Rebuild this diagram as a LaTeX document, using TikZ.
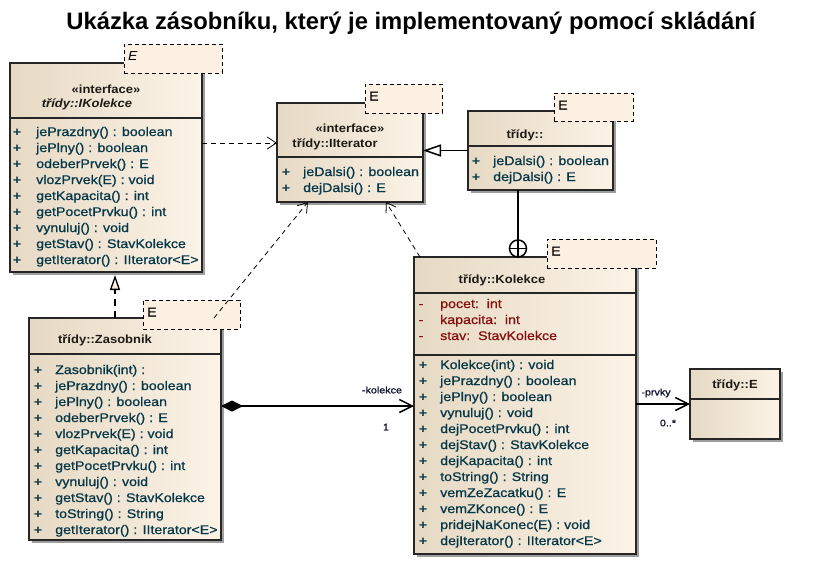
\documentclass[tikz,border=0pt]{standalone}
\usepackage{fontspec}
\setmainfont{Liberation Sans}
\newfontfamily\mfont[FakeBold=0.9]{Liberation Sans}
\usetikzlibrary{arrows.meta,shadows,calc}
\definecolor{mcol}{HTML}{073848}
\definecolor{acol}{HTML}{861010}
\definecolor{hcol}{HTML}{1E1A16}
\definecolor{boxl}{HTML}{E6D9C4}
\definecolor{boxr}{HTML}{FCF3E7}
\definecolor{tpl}{HTML}{FBF0E2}
\definecolor{lcol}{HTML}{101030}
\newcommand\umlops[5]{%
  \foreach \t [count=\i] in {#5} {
    \node[ptext] (#1p\i) at ({#2},{#4+16*(\i-1)}) {+};
    \node[mtext] (#1m\i) at ({#3},{#4+16*(\i-1)}) {\t};
  }}
\begin{document}
\begin{tikzpicture}[x=1pt,y=-1pt,
  classbox/.style={draw=black!85, line width=1.6pt, left color=boxl, right color=boxr,
    inner sep=0pt, outer sep=0pt,
    drop shadow={shadow xshift=3pt,shadow yshift=-3pt,fill=black!38,opacity=1}},
  tplbox/.style={draw=black, line width=0.8pt, dash pattern=on 4pt off 3pt, fill=tpl,
    inner sep=0pt, outer sep=0pt},
  tpltext/.style={anchor=west, inner sep=0pt, text=black, font=\mfont\fontsize{13}{15}\selectfont,
    text height=9pt, text depth=0pt, xscale=1.08},
  divider/.style={draw=black!85, line width=1.6pt},
  mtext/.style={text=mcol, font=\mfont\fontsize{12.5}{15}\selectfont, inner sep=0pt, anchor=west,
    text height=9pt, text depth=3pt, xscale=1.136},
  ptext/.style={text=mcol, font=\mfont\fontsize{12.5}{15}\selectfont, inner sep=0pt,
    text height=9pt, text depth=3pt, xscale=1.136},
  atext/.style={mtext, text=acol},
  hdr/.style={text=hcol, font=\bfseries\fontsize{11.8}{14}\selectfont, inner sep=0pt,
    text height=8.5pt, text depth=2.5pt, xscale=1.1},
  lbl/.style={text=lcol, font=\mfont\fontsize{9.5}{11}\selectfont, inner sep=0pt, xscale=1.13},
  dep/.style={draw=black, line width=0.8pt, dash pattern=on 5pt off 4pt,
    -{Straight Barb[length=9pt,width=12pt,line width=0.8pt]}},
  solidline/.style={draw=black, line width=1.5pt}
]
\useasboundingbox[fill=white] (0,0) rectangle (823,581);

% title
\node[inner sep=0pt] (title) at (411,23)
  {\bfseries\fontsize{23.8}{28}\selectfont Ukázka zásobníku, který je implementovaný pomocí skládání};

% ---------- IKolekce ----------
\node[classbox, minimum width=192pt, minimum height=209pt] (ik) at (106,167.5) {};
\draw[divider] (10,118) -- (202,118);
\node[hdr] (ikst) at (106,90) {«interface»};
\node[hdr, font=\bfseries\itshape\fontsize{11.8}{14}\selectfont] (ikname) at (87,104) {třídy::IKolekce};
\umlops{ik}{17}{36}{133}{{jePrazdny() : boolean},{jePlny() : boolean},{odeberPrvek() : E},{vlozPrvek(E) : void},{getKapacita() : int},{getPocetPrvku() : int},{vynuluj() : void},{getStav() : StavKolekce},{getIterator() : IIterator<E>}}
\node[tplbox, minimum width=98pt, minimum height=29pt] (ikE) at (173,58.5) {};
\node[tpltext, font=\itshape\fontsize{13}{15}\selectfont] (ikEt) at ([xshift=4pt,yshift=-12pt]ikE.north west) {E};

% ---------- IIterator ----------
\node[classbox, minimum width=146pt, minimum height=99pt] (it) at (350,152.5) {};
\draw[divider] (277,157) -- (423,157);
\node[hdr] (itst) at (350,129) {«interface»};
\node[hdr] (itname) at (335,144) {třídy::IIterator};
\umlops{it}{286}{303}{173}{{jeDalsi() : boolean},{dejDalsi() : E}}
\node[tplbox, minimum width=77pt, minimum height=29pt] (itE) at (403.5,98.5) {};
\node[tpltext] (itEt) at ([xshift=4pt,yshift=-12pt]itE.north west) {E};

% ---------- tridy:: ----------
\node[classbox, minimum width=145pt, minimum height=79pt] (td) at (540.5,150.5) {};
\draw[divider] (468,146) -- (613,146);
\node[hdr] (tdname) at (525,135) {třídy::};
\umlops{td}{476}{493}{162}{{jeDalsi() : boolean},{dejDalsi() : E}}
\node[tplbox, minimum width=79pt, minimum height=28pt] (tdE) at (593.5,107) {};
\node[tpltext] (tdEt) at ([xshift=4pt,yshift=-12pt]tdE.north west) {E};

% ---------- Kolekce ----------
\node[classbox, minimum width=222pt, minimum height=297pt] (ko) at (525,405.5) {};
\draw[divider] (414,293) -- (636,293);
\draw[divider] (414,355) -- (636,355);
\node[hdr] (koname) at (502,280) {třídy::Kolekce};
\foreach \t [count=\i] in {{pocet:\ \ int},{kapacita:\ \ int},{stav:\ \ StavKolekce}} {
  \node[ptext, text=acol] (koap\i) at ({421},{305+16*(\i-1)}) {-};
  \node[atext] (koa\i) at ({440},{305+16*(\i-1)}) {\t};
}
\umlops{ko}{423}{440}{366}{{Kolekce(int) : void},{jePrazdny() : boolean},{jePlny() : boolean},{vynuluj() : void},{dejPocetPrvku() : int},{dejStav() : StavKolekce},{dejKapacita() : int},{toString() : String},{vemZeZacatku() : E},{vemZKonce() : E},{pridejNaKonec(E) : void},{dejIterator() : IIterator<E>}}
\node[tplbox, minimum width=109pt, minimum height=29pt] (koE) at (601.5,253.5) {};
\node[tpltext] (koEt) at ([xshift=4pt,yshift=-12pt]koE.north west) {E};

% ---------- tridy::E ----------
\node[classbox, minimum width=90pt, minimum height=70pt] (e) at (735,404) {};
\draw[divider] (690,399) -- (780,399);
\node[hdr] (ename) at (735,385) {třídy::E};

% ---------- Zasobnik ----------
\node[classbox, minimum width=192pt, minimum height=222pt] (za) at (125,429) {};
\draw[divider] (29,354) -- (221,354);
\node[hdr] (zaname) at (105,340) {třídy::Zasobnik};
\umlops{za}{38}{55}{371}{{Zasobnik(int) :},{jePrazdny() : boolean},{jePlny() : boolean},{odeberPrvek() : E},{vlozPrvek(E) : void},{getKapacita() : int},{getPocetPrvku() : int},{vynuluj() : void},{getStav() : StavKolekce},{toString() : String},{getIterator() : IIterator<E>}}
\node[tplbox, minimum width=97pt, minimum height=29pt] (zaE) at (191.5,314.5) {};
\node[tpltext] (zaEt) at ([xshift=4pt,yshift=-12pt]zaE.north west) {E};

% ---------- connectors ----------
\draw[dep] ([yshift=24.5pt]ik.east) -- ([yshift=9.5pt]it.west);
\draw[draw=black, line width=1.3pt, dash pattern=on 7pt off 5pt,
  -{Triangle[open,length=15pt,width=10pt,fill=tpl,line width=1.3pt]}]
  ([xshift=-10pt]za.north) -- ([xshift=9pt,yshift=-3pt]ik.south);
\draw[dep] ([xshift=-7pt]za.north east) -- ([xshift=-42pt]it.south);
\draw[dep] ([xshift=6pt]ko.north west) -- ([xshift=36pt]it.south);
\draw[solidline, -{Triangle[open,length=18pt,width=12pt,fill=white,line width=1.5pt]}]
  (td.west) -- (td.west -| it.east);
\node[circle, draw=black, line width=1.5pt, fill=white, minimum size=17pt, inner sep=0pt] (nest)
  at ($(ko.north west)+(104,-8.5)$) {};
\draw[line width=1.5pt] (nest.north) -- (nest.south) (nest.west) -- (nest.east);
\draw[solidline] ([xshift=-22.5pt]td.south) -- (nest.north);
\coordinate (c1) at ([yshift=23pt]za.east);
\draw[solidline, {Diamond[length=22pt,width=11pt,line width=0.5pt]}-{Straight Barb[length=13pt,width=13pt,line width=1.5pt]}]
  (c1) -- (c1 -| ko.west);
\node[lbl] (l1) at (382,390) {-kolekce};
\node[lbl] (l2) at (386,427) {1};
\draw[solidline, -{Straight Barb[length=13pt,width=13pt,line width=1.5pt]}]
  (e.west -| ko.east) -- (e.west);
\node[lbl] (l3) at (656,393) {-prvky};
\node[lbl] (l4) at (668,423) {0..*};
\end{tikzpicture}
\end{document}
